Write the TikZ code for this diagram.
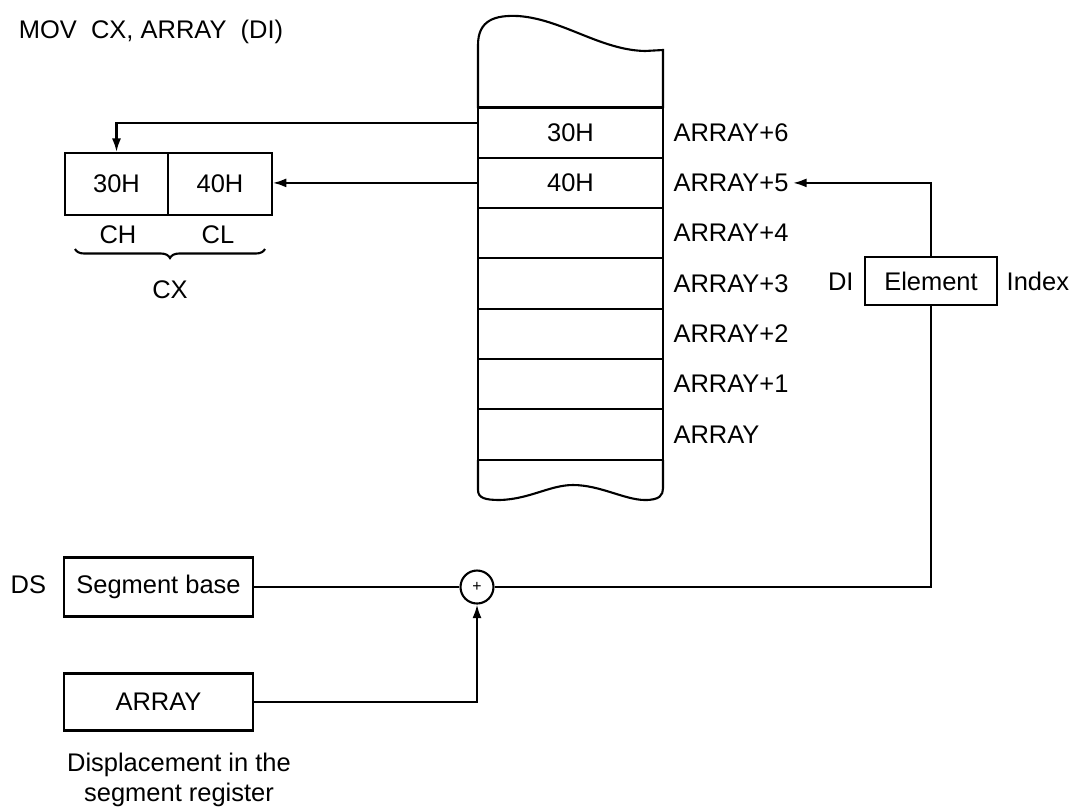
\documentclass[tikz,border=0pt]{standalone}
\usepackage{fontspec}
\setmainfont{Liberation Sans}
\usetikzlibrary{arrows.meta,positioning,decorations.pathreplacing}

\begin{document}
\begin{tikzpicture}[
  x=0.02cm,y=-0.02cm,
  font=\fontsize{14.5}{17}\selectfont,
  line width=1.2pt,
  cell/.style={draw,minimum width=3.7cm,minimum height=1.006cm,inner sep=0pt},
  reg/.style={draw,minimum width=2.07cm,minimum height=1.24cm,inner sep=0pt},
  box/.style={draw,minimum width=3.78cm,minimum height=1.18cm,inner sep=0pt},
  lbl/.style={anchor=west,inner sep=2pt},
  a/.style={-{Latex[length=0.27cm,width=0.18cm]}}
]
  \useasboundingbox (0,0) rectangle (1070,806);
  \node[anchor=west] (title) at (12,32) {MOV\ \ CX, ARRAY\ \ (DI)};

  % memory
  \foreach \i/\t/\v in {6/30H/ARRAY+6,5/40H/ARRAY+5,4//ARRAY+4,3//ARRAY+3,
    2//ARRAY+2,1//ARRAY+1,0//ARRAY}
  {
    \node[cell] (c\i) at (570.5,{132.6+50.3*(6-\i)}) {\t};
    \node[lbl] (a\i) at (669,{132.6+50.3*(6-\i)}) {\v};
  }
  \draw (478,108) -- (478,45) .. controls (478,20) and (495,15) .. (518,16)
    .. controls (562,19) and (600,50) .. (645,51) -- (663,50) -- (663,108);
  \draw (478,460) -- (478,490) .. controls (478,498) and (485,500) .. (500,500)
    .. controls (530,499) and (550,485) .. (573,485)
    .. controls (600,485) and (625,500) .. (645,500)
    .. controls (660,500) and (663,495) .. (663,488) -- (663,460);

  % CX register
  \node[reg] (ch) at (116.5,184) {30H};
  \node[reg,right=-1.2pt of ch] (cl) {40H};
  \node (chl) at (118,235) {CH};
  \node (cll) at (218,235) {CL};
  \draw[decorate,decoration={brace,mirror,amplitude=0.18cm}] (75,249) -- (265,249);
  \node (cx) at (170,290) {CX};

  % index register
  \node[draw,minimum width=2.64cm,minimum height=0.96cm,inner sep=0pt] (elem) at (931,281) {Element};
  \node[anchor=base east] (di) at ([xshift=-2pt]elem.base west) {DI};
  \node[anchor=base west] (idx) at ([xshift=1pt]elem.base east) {Index};

  % address adder
  \node[draw,circle,minimum size=0.66cm,inner sep=0pt] (plus) at (477,587) {\small +};
  \node[box] (seg) at (158.5,587) {Segment base};
  \node[anchor=base east] (ds) at ([xshift=-0.2cm]seg.base west) {DS};
  \node[box,minimum height=1.14cm] (arr) at (158.5,702) {ARRAY};
  \node[align=center] (disp) at (179,780) {Displacement in the\\segment register};

  \draw[a] ([yshift=0.19cm]c6.west) -| (ch.north);
  \draw[a] (c5.west) -- (c5.west -| cl.east);
  \draw[a] (elem.north) |- (a5.east);
  \draw (elem.south) |- (plus.east);
  \draw (seg.east) -- (plus.west);
  \draw[a] (arr.east) -| (plus.south);
\end{tikzpicture}
\end{document}
